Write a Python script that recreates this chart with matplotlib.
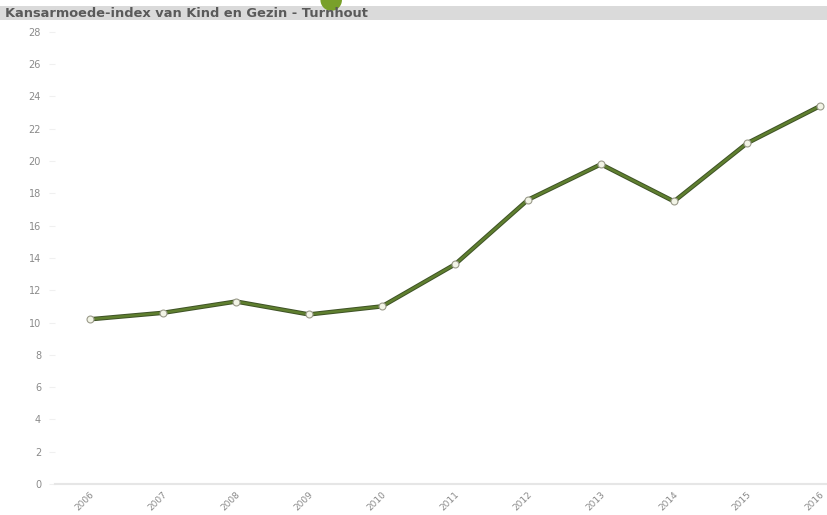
import matplotlib.pyplot as plt
from matplotlib.patches import Rectangle, Ellipse

years = ["2006", "2007", "2008", "2009", "2010", "2011", "2012", "2013", "2014", "2015", "2016"]
index_values = [10.2, 10.6, 11.3, 10.5, 11.0, 13.6, 17.6, 19.8, 17.5, 21.1, 23.4]
y_ticks = list(range(0, 29, 2))

fig = plt.figure(figsize=(8.28, 5.15), dpi=100)
fig.patch.set_facecolor("white")

# grey title band
fig.patches.append(Rectangle((0, 0.961), 1, 0.027, transform=fig.transFigure,
                             facecolor="#dadada", edgecolor="none", zorder=0))
# green blob peeking from the top
fig.patches.append(Ellipse((0.40, 1.0), 0.026, 0.042, transform=fig.transFigure,
                           facecolor="#79a02a", edgecolor="none", zorder=1))
fig.text(0.006, 0.974, "Kansarmoede-index van Kind en Gezin - Turnhout",
         fontsize=9.4, fontweight="bold", color="#5a5a5a", va="center", ha="left", zorder=5)

ax = fig.add_axes([0.0664, 0.0602, 0.9336, 0.878])
x = list(range(len(years)))
ax.plot(x, index_values, color="#3e5226", linewidth=3.2, zorder=2, solid_capstyle="round")
ax.plot(x, index_values, color="#5f7f2f", linewidth=1.8, zorder=3,
        marker="o", markersize=5, markerfacecolor="#f2f4e6", markeredgecolor="#9a9a8a",
        markeredgewidth=0.8)

ax.set_xlim(-0.48, 10.11)
ax.set_ylim(0, 28)
ax.set_yticks(y_ticks)
ax.set_yticklabels([str(v) for v in y_ticks])
ax.set_xticks(x)
ax.set_xticklabels(years, rotation=45, ha="right", va="top", rotation_mode="anchor")

for side in ["top", "right", "left"]:
    ax.spines[side].set_visible(False)
ax.spines["bottom"].set_color("#e6e6e6")
ax.spines["bottom"].set_linewidth(1.5)
ax.tick_params(axis="y", length=4, color="#f0f0f0", labelsize=7, labelcolor="#8a8a8a", pad=6)
ax.tick_params(axis="x", length=0, labelsize=6.5, labelcolor="#8a8a8a", pad=4)

fig.savefig("out.png", dpi=100)
